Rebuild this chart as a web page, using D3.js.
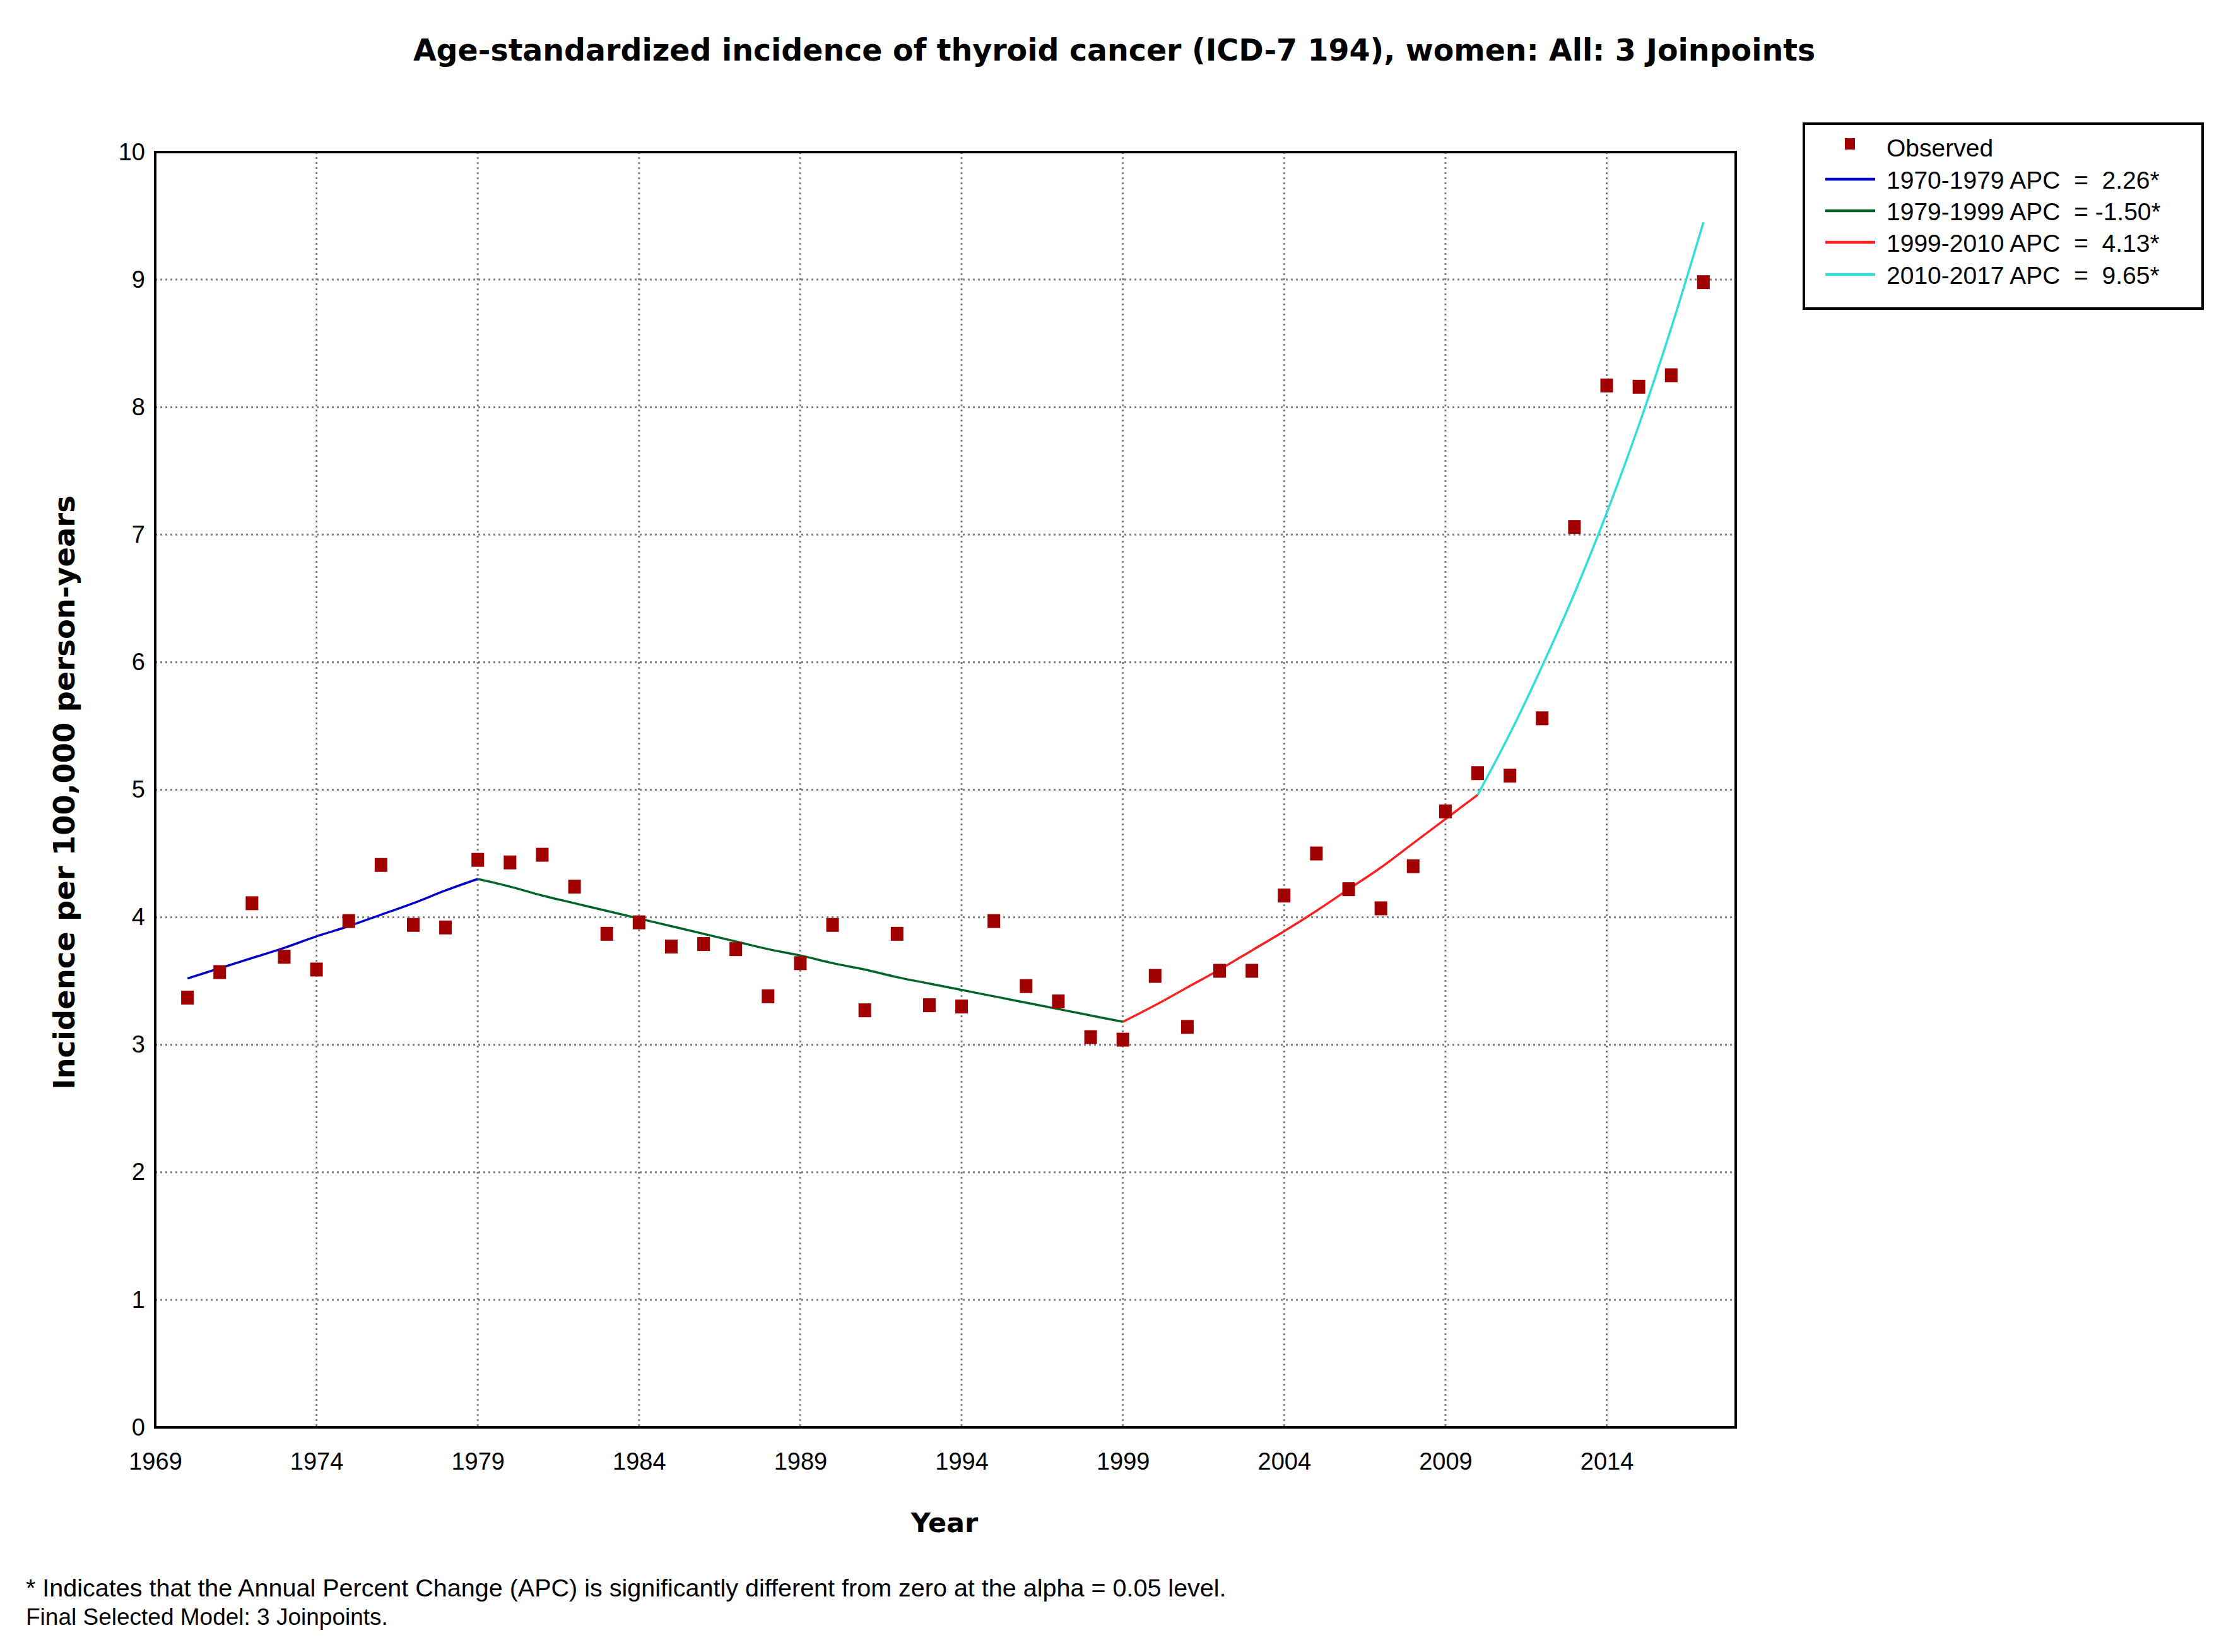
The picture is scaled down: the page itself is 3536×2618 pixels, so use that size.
<!DOCTYPE html>
<html>
<head>
<meta charset="utf-8">
<script src="https://cdn.jsdelivr.net/npm/d3@7"></script>
<style>
  html, body { margin: 0; padding: 0; background: #fff; }
  svg text { white-space: pre; }
</style>
</head>
<body>
<svg id="chart" width="3536" height="2618"></svg>
<script>
// ---------- DATA ----------
const years = [1970,1971,1972,1973,1974,1975,1976,1977,1978,1979,
               1980,1981,1982,1983,1984,1985,1986,1987,1988,1989,
               1990,1991,1992,1993,1994,1995,1996,1997,1998,1999,
               2000,2001,2002,2003,2004,2005,2006,2007,2008,2009,
               2010,2011,2012,2013,2014,2015,2016,2017];
const observed = [3.37,3.57,4.11,3.69,3.59,3.97,4.41,3.94,3.92,4.45,
                  4.43,4.49,4.24,3.87,3.96,3.77,3.79,3.75,3.38,3.64,
                  3.94,3.27,3.87,3.31,3.30,3.97,3.46,3.34,3.06,3.04,
                  3.54,3.14,3.58,3.58,4.17,4.50,4.22,4.07,4.40,4.83,
                  5.13,5.11,5.56,7.06,8.17,8.16,8.25,8.98];
const fitted = [3.52,3.60,3.68,3.76,3.85,3.93,4.02,4.11,4.21,4.30,
                4.24,4.17,4.11,4.05,3.99,3.93,3.87,3.81,3.75,3.70,
                3.64,3.59,3.53,3.48,3.43,3.38,3.33,3.28,3.23,3.18,
                3.31,3.45,3.59,3.74,3.89,4.05,4.22,4.39,4.58,4.77,
                4.96,5.44,5.97,6.54,7.17,7.86,8.62,9.45];
const segmentStart = [1970, 1979, 1999, 2010];
const segmentEnd   = [1979, 1999, 2010, 2017];
const segmentAPC   = ["2.26*", "-1.50*", "4.13*", "9.65*"];
const segmentColor = ["#0000c8", "#006428", "#ff2020", "#30e0d8"];
const xTicks = [1969,1974,1979,1984,1989,1994,1999,2004,2009,2014];
const yTicks = [0,1,2,3,4,5,6,7,8,9,10];
const titleText = "Age-standardized incidence of thyroid cancer (ICD-7 194), women: All: 3 Joinpoints";
const yLabelText = "Incidence per 100,000 person-years";
const xLabelText = "Year";
const footnotes = ["* Indicates that the Annual Percent Change (APC) is significantly different from zero at the alpha = 0.05 level.",
                   "Final Selected Model: 3 Joinpoints."];

// ---------- LAYOUT ----------
const svg = d3.select("#chart");
const L = 246, R = 2751, T = 241, B = 2262;
const x = d3.scaleLinear().domain([1969, 2018]).range([L, R]);
const y = d3.scaleLinear().domain([0, 10]).range([B, T]);
const sansFont = "'Liberation Sans', Arial, sans-serif";
const boldFont = "'DejaVu Sans', Verdana, sans-serif";

svg.append("rect").attr("width", 3536).attr("height", 2618).attr("fill", "#fff");

function fitText(sel, target) {
  const n = sel.node();
  const len = n.getComputedTextLength();
  const fs = parseFloat(sel.attr("font-size"));
  sel.attr("font-size", fs * target / len);
}

// grid
const grid = svg.append("g");
grid.selectAll("line.vx").data(xTicks.slice(1)).join("line")
  .attr("x1", d => x(d)).attr("x2", d => x(d)).attr("y1", T).attr("y2", B)
  .attr("stroke", "#808080").attr("stroke-width", 3).attr("stroke-dasharray", "3,5");
grid.selectAll("line.hy").data(yTicks.slice(1, -1)).join("line")
  .attr("x1", L).attr("x2", R).attr("y1", d => y(d)).attr("y2", d => y(d))
  .attr("stroke", "#808080").attr("stroke-width", 3).attr("stroke-dasharray", "3,5");

// axes
const xAxis = svg.append("g").attr("transform", `translate(0,${B})`)
  .call(d3.axisBottom(x).tickValues(xTicks).tickFormat(d3.format("d")).tickSize(0).tickPadding(40));
xAxis.select(".domain").remove();
xAxis.selectAll("text").attr("font-family", sansFont).attr("font-size", 38).attr("fill", "#000");

const yAxis = svg.append("g").attr("transform", `translate(${L},0)`)
  .call(d3.axisLeft(y).tickValues(yTicks).tickFormat(d3.format("d")).tickSize(0).tickPadding(16));
yAxis.select(".domain").remove();
yAxis.selectAll("text").attr("font-family", sansFont).attr("font-size", 38).attr("fill", "#000");

// fitted segments
const line = d3.line().x(d => x(d[0])).y(d => y(d[1])).curve(d3.curveMonotoneX);
segmentStart.forEach((s, i) => {
  const pts = years.map((yr, j) => [yr, fitted[j]]).filter(p => p[0] >= s && p[0] <= segmentEnd[i]);
  svg.append("path").attr("d", line(pts)).attr("fill", "none")
    .attr("stroke", segmentColor[i]).attr("stroke-width", 3.5);
});

// observed points
const mw = 20, mh = 22;
svg.append("g").selectAll("rect").data(years).join("rect")
  .attr("x", (d) => x(d) - mw / 2)
  .attr("y", (d, i) => y(observed[i]) - mh / 2)
  .attr("width", mw).attr("height", mh)
  .attr("fill", "#a00000");

// plot frame
svg.append("rect").attr("x", L).attr("y", T).attr("width", R - L).attr("height", B - T)
  .attr("fill", "none").attr("stroke", "#000").attr("stroke-width", 4);

// title
const title = svg.append("text").attr("x", 1766).attr("y", 96)
  .attr("text-anchor", "middle").attr("font-family", boldFont).attr("font-weight", "bold")
  .attr("font-size", 42).text(titleText);
fitText(title, 2223);

// y label
const yl = svg.append("text").attr("transform", "translate(118,1256) rotate(-90)")
  .attr("text-anchor", "middle").attr("font-family", boldFont).attr("font-weight", "bold")
  .attr("font-size", 42).text(yLabelText);
fitText(yl, 942);

// x label
svg.append("text").attr("x", 1497).attr("y", 2428)
  .attr("text-anchor", "middle").attr("font-family", boldFont).attr("font-weight", "bold")
  .attr("font-size", 43).text(xLabelText);

// footnotes
footnotes.forEach((f, i) => {
  const t = svg.append("text").attr("x", 41).attr("y", 2530 + i * 45)
    .attr("font-family", sansFont).attr("font-size", 37).attr("fill", "#000").text(f);
  if (i === 0) fitText(t, 1903);
});

// legend
const lg = svg.append("g");
lg.append("rect").attr("x", 2859).attr("y", 196).attr("width", 632).attr("height", 293)
  .attr("fill", "#fff").attr("stroke", "#000").attr("stroke-width", 4);
const rowY = [235, 286, 336, 386, 437];
lg.append("rect").attr("x", 2932 - 8).attr("y", rowY[0] - 16).attr("width", 16).attr("height", 18)
  .attr("fill", "#a00000");
lg.append("text").attr("x", 2990).attr("y", rowY[0] + 13)
  .attr("font-family", sansFont).attr("font-size", 39).text("Observed");
segmentStart.forEach((s, i) => {
  const ry = rowY[i + 1];
  lg.append("line").attr("x1", 2893).attr("x2", 2972).attr("y1", ry - 2).attr("y2", ry - 2)
    .attr("stroke", segmentColor[i]).attr("stroke-width", 4.5);
  lg.append("text").attr("x", 2990).attr("y", ry + 13)
    .attr("font-family", sansFont).attr("font-size", 39)
    .text(`${s}-${segmentEnd[i]} APC  = ${segmentAPC[i].startsWith("-") ? "" : " "}${segmentAPC[i]}`);
});
</script>
</body>
</html>
